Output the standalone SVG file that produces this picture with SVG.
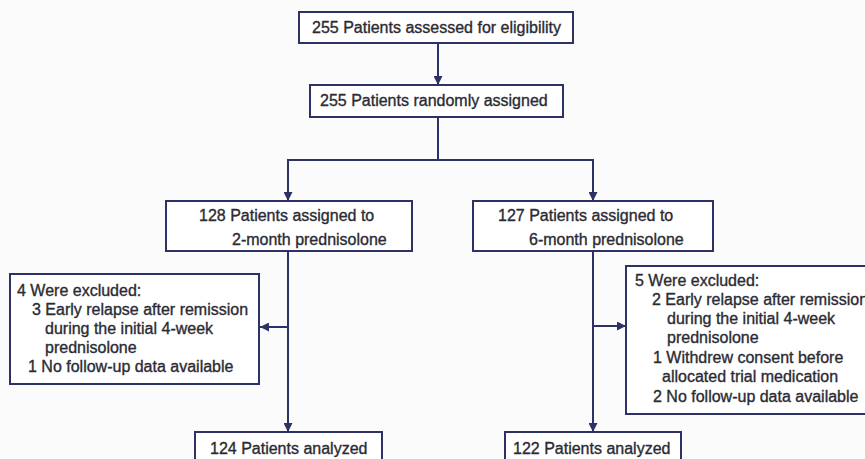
<svg xmlns="http://www.w3.org/2000/svg" width="865" height="459" viewBox="0 0 865 459">
<defs>
<style>
.box{fill:#ffffff;stroke:#2e3166;stroke-width:2}
.ln{fill:none;stroke:#2e3166;stroke-width:2}
text{font-family:"Liberation Sans",Arial,sans-serif;font-size:16px;fill:#2b2b33;stroke:#2b2b33;stroke-width:0.35}
</style>
<marker id="ah" viewBox="0 0 10 10" refX="10" refY="5" markerWidth="9" markerHeight="9" markerUnits="userSpaceOnUse" orient="auto">
<path d="M0,0 L10,5 L0,10 z" fill="#2e3166"/>
</marker>
</defs>
<rect width="865" height="459" fill="#fbfbfb"/>
<g id="connectors">
<line class="ln" x1="438" y1="43" x2="438" y2="85" marker-end="url(#ah)"/>
<line class="ln" x1="438" y1="117" x2="438" y2="160"/>
<line class="ln" x1="287" y1="160" x2="594" y2="160"/>
<line class="ln" x1="288" y1="160" x2="288" y2="201" marker-end="url(#ah)"/>
<line class="ln" x1="593" y1="160" x2="593" y2="201" marker-end="url(#ah)"/>
<line class="ln" x1="288" y1="251" x2="288" y2="432" marker-end="url(#ah)"/>
<line class="ln" x1="288" y1="327" x2="260" y2="327" marker-end="url(#ah)"/>
<line class="ln" x1="593" y1="251" x2="593" y2="432" marker-end="url(#ah)"/>
<line class="ln" x1="593" y1="326" x2="626" y2="326" marker-end="url(#ah)"/>
</g>
<g id="assessed">
<rect class="box" x="299" y="12" width="274" height="31"/>
<text x="312" y="33">255 Patients assessed for eligibility</text>
</g>
<g id="randomized">
<rect class="box" x="310" y="85" width="253" height="32"/>
<text x="320" y="106">255 Patients randomly assigned</text>
</g>
<g id="arm2">
<rect class="box" x="166" y="201" width="246" height="50"/>
<text x="199" y="221">128 Patients assigned to</text>
<text x="232" y="245">2-month prednisolone</text>
</g>
<g id="arm6">
<rect class="box" x="473" y="201" width="240" height="50"/>
<text x="498" y="221">127 Patients assigned to</text>
<text x="529" y="245">6-month prednisolone</text>
</g>
<g id="excluded2">
<rect class="box" x="10" y="274" width="249" height="110"/>
<text x="17" y="296">4 Were excluded:</text>
<text x="32" y="315">3 Early relapse after remission</text>
<text x="45" y="334">during the initial 4-week</text>
<text x="45" y="353">prednisolone</text>
<text x="28" y="372">1 No follow-up data available</text>
</g>
<g id="excluded6">
<rect class="box" x="626" y="266" width="250" height="148"/>
<text x="635" y="286">5 Were excluded:</text>
<text x="652" y="305">2 Early relapse after remission</text>
<text x="667" y="324">during the initial 4-week</text>
<text x="667" y="343">prednisolone</text>
<text x="653" y="363">1 Withdrew consent before</text>
<text x="662" y="382">allocated trial medication</text>
<text x="653" y="402">2 No follow-up data available</text>
</g>
<g id="analyzed2">
<rect class="box" x="195" y="432" width="187" height="40"/>
<text x="210" y="454">124 Patients analyzed</text>
</g>
<g id="analyzed6">
<rect class="box" x="505" y="432" width="176" height="40"/>
<text x="513" y="454">122 Patients analyzed</text>
</g>
</svg>
